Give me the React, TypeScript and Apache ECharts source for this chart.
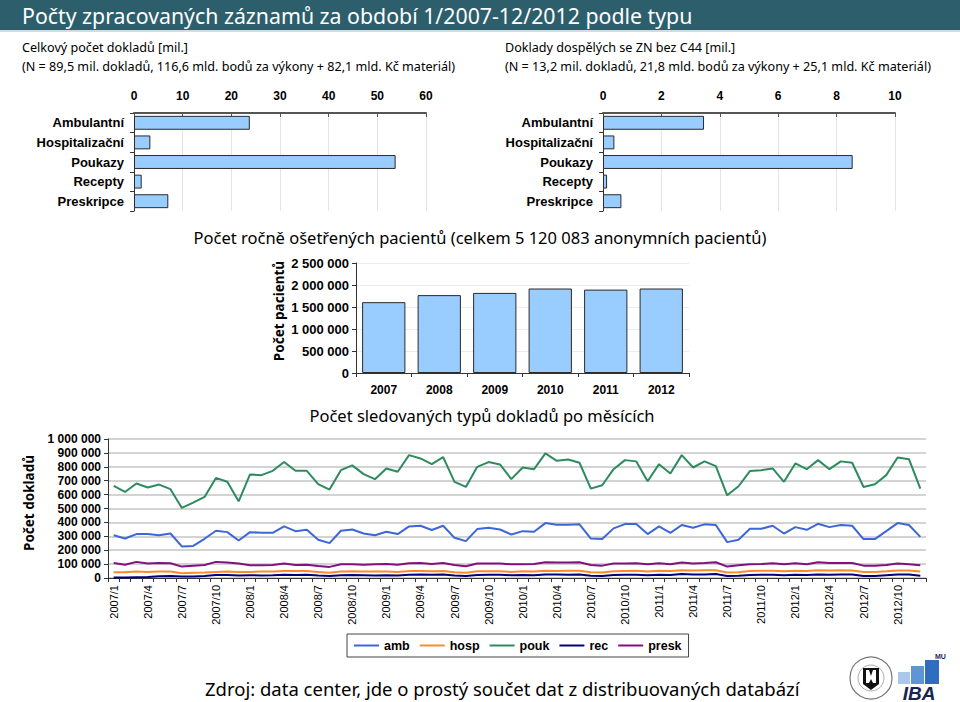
import React, { useEffect, useRef } from "react";
import * as echarts from "echarts";

const TYPE_CATS = ["Ambulantní", "Hospitalizační", "Poukazy", "Recepty", "Preskripce"];
const TOTAL_MIL = [23.8, 3.36, 53.76, 1.58, 7.05];
const ADULT_MIL = [3.46, 0.39, 8.55, 0.14, 0.63];
const TOP_LEFT_TICKS = { min: 0, max: 60, interval: 10 };
const TOP_RIGHT_TICKS = { min: 0, max: 10, interval: 2 };

const YEARS = ["2007", "2008", "2009", "2010", "2011", "2012"];
const PATIENTS = [1610000, 1770000, 1820000, 1920000, 1895000, 1920000];

const MONTHS = [
  "2007/1", "2007/2", "2007/3", "2007/4", "2007/5", "2007/6", "2007/7", "2007/8", "2007/9", "2007/10", "2007/11", "2007/12",
  "2008/1", "2008/2", "2008/3", "2008/4", "2008/5", "2008/6", "2008/7", "2008/8", "2008/9", "2008/10", "2008/11", "2008/12",
  "2009/1", "2009/2", "2009/3", "2009/4", "2009/5", "2009/6", "2009/7", "2009/8", "2009/9", "2009/10", "2009/11", "2009/12",
  "2010/1", "2010/2", "2010/3", "2010/4", "2010/5", "2010/6", "2010/7", "2010/8", "2010/9", "2010/10", "2010/11", "2010/12",
  "2011/1", "2011/2", "2011/3", "2011/4", "2011/5", "2011/6", "2011/7", "2011/8", "2011/9", "2011/10", "2011/11", "2011/12",
  "2012/1", "2012/2", "2012/3", "2012/4", "2012/5", "2012/6", "2012/7", "2012/8", "2012/9", "2012/10", "2012/11", "2012/12",
];

// monthly counts in thousands
const AMB = [
  308, 284, 316, 316, 308, 320, 227, 231, 282, 340, 330, 270,
  330, 325, 325, 371, 337, 347, 275, 251, 340, 349, 320, 308,
  333, 316, 371, 376, 345, 376, 289, 265, 352, 361, 349, 313,
  337, 333, 395, 383, 383, 386, 284, 280, 357, 388, 388, 316,
  371, 325, 381, 361, 386, 381, 258, 275, 354, 354, 376, 320,
  366, 347, 390, 366, 381, 376, 280, 280, 337, 395, 381, 296,
];
const HOSP = [
  42, 42, 46, 44, 46, 46, 34, 37, 40, 44, 46, 43,
  44, 46, 46, 50, 50, 50, 44, 38, 46, 48, 46, 46,
  46, 44, 50, 50, 48, 50, 42, 38, 48, 48, 48, 44,
  48, 46, 52, 50, 52, 52, 42, 40, 48, 50, 52, 46,
  52, 50, 56, 54, 56, 56, 40, 42, 50, 52, 52, 48,
  52, 50, 56, 54, 56, 54, 44, 44, 48, 54, 54, 46,
];
const POUK = [
  663, 619, 680, 651, 672, 639, 504, 542, 583, 720, 692, 552,
  745, 740, 771, 834, 771, 771, 675, 636, 776, 810, 747, 711,
  788, 764, 884, 860, 819, 870, 692, 655, 800, 834, 817, 711,
  795, 783, 896, 843, 853, 829, 643, 667, 783, 848, 839, 696,
  819, 752, 884, 795, 839, 805, 595, 660, 769, 776, 788, 692,
  824, 783, 848, 783, 839, 829, 655, 675, 740, 867, 855, 643,
];
const REC = [
  3, 4, 6, 8, 12, 14, 10, 10, 14, 22, 22, 18,
  20, 18, 20, 24, 22, 24, 18, 14, 20, 22, 20, 18,
  20, 18, 24, 26, 24, 26, 18, 14, 22, 24, 24, 20,
  22, 20, 26, 26, 24, 26, 16, 14, 22, 24, 24, 20,
  24, 22, 28, 26, 26, 28, 14, 16, 22, 24, 24, 20,
  24, 22, 26, 24, 26, 26, 14, 14, 20, 26, 26, 16,
];
const PRESK = [
  108, 96, 116, 104, 108, 106, 82, 89, 94, 116, 111, 104,
  92, 92, 94, 104, 94, 96, 87, 80, 99, 99, 96, 99,
  101, 96, 106, 108, 101, 108, 94, 84, 104, 104, 104, 99,
  99, 101, 113, 111, 111, 113, 94, 89, 104, 104, 106, 99,
  106, 99, 111, 104, 108, 113, 82, 92, 99, 101, 106, 99,
  106, 99, 113, 108, 108, 108, 89, 89, 94, 104, 99, 92,
];
const LINE_NAMES = ["amb", "hosp", "pouk", "rec", "presk"];
const LINE_COLORS = ["#3D66D6", "#FF8A2A", "#2E8B5E", "#00007A", "#82107F"];

const HUMAN = "'Noto Sans', 'Open Sans', sans-serif";
const ARIAL = "'Liberation Sans', Arial, sans-serif";

const spaced = (v: number) => String(Math.round(v)).replace(/\B(?=(\d{3})+(?!\d))/g, " ");

export default function App() {
  const ref = useRef<HTMLDivElement>(null);
  useEffect(() => {
    if (!ref.current) return;
    const chart = echarts.init(ref.current, null, { renderer: "svg" });

    const barStyle = { color: "#99CCFF", borderColor: "#2a2a2a", borderWidth: 1 };
    const tickLabel = { fontFamily: ARIAL, fontWeight: "bold" as const, fontSize: 12, color: "#000" };

    const hBarX = (grid: number, t: { min: number; max: number; interval: number }) => ({
      gridIndex: grid,
      type: "value",
      position: "top",
      min: t.min,
      max: t.max,
      interval: t.interval,
      axisLine: { show: true, lineStyle: { color: "#555", width: 2 } },
      axisTick: { show: true, inside: true, length: 4, lineStyle: { color: "#555" } },
      axisLabel: { ...tickLabel, margin: 11 },
      splitLine: { show: true, lineStyle: { color: "#e4e4e4", width: 1 } },
    });
    const hBarY = (grid: number) => ({
      gridIndex: grid,
      type: "category",
      data: TYPE_CATS,
      inverse: true,
      axisLine: { show: true, onZero: false, lineStyle: { color: "#333", width: 1 } },
      axisTick: { show: true, length: 4, lineStyle: { color: "#333" } },
      axisLabel: { fontFamily: ARIAL, fontWeight: "bold", fontSize: 13, color: "#000", margin: 10 },
    });

    const lineData = [AMB, HOSP, POUK, REC, PRESK];

    const option: any = {
      animation: false,
      backgroundColor: "#ffffff",
      grid: [
        { left: 134, top: 113, width: 292, height: 98 },
        { left: 603, top: 113, width: 292, height: 98 },
        { left: 356, top: 263, width: 333, height: 110 },
        { left: 108, top: 439, width: 818, height: 139 },
      ],
      xAxis: [
        hBarX(0, TOP_LEFT_TICKS),
        hBarX(1, TOP_RIGHT_TICKS),
        {
          gridIndex: 2,
          type: "category",
          data: YEARS,
          axisLine: { show: true, lineStyle: { color: "#333", width: 1 } },
          axisTick: { show: true, length: 4, lineStyle: { color: "#333" } },
          axisLabel: { ...tickLabel, margin: 11 },
        },
        {
          gridIndex: 3,
          type: "category",
          data: MONTHS,
          boundaryGap: true,
          axisLine: { show: true, lineStyle: { color: "#333", width: 1 } },
          axisTick: { show: true, interval: 0, length: 4, lineStyle: { color: "#333" } },
          axisLabel: { fontFamily: ARIAL, fontSize: 11, color: "#000", rotate: 90, interval: 2, margin: 7 },
        },
      ],
      yAxis: [
        hBarY(0),
        hBarY(1),
        {
          gridIndex: 2,
          type: "value",
          min: 0,
          max: 2500000,
          interval: 500000,
          axisLine: { show: true, lineStyle: { color: "#333", width: 1 } },
          axisTick: { show: true, length: 4, lineStyle: { color: "#333" } },
          axisLabel: { ...tickLabel, fontSize: 13, margin: 7, formatter: (v: number) => spaced(v) },
          splitLine: { show: true, lineStyle: { color: "#ececec", width: 1 } },
        },
        {
          gridIndex: 3,
          type: "value",
          min: 0,
          max: 1000,
          interval: 100,
          axisLine: { show: true, lineStyle: { color: "#333", width: 1 } },
          axisTick: { show: true, length: 4, lineStyle: { color: "#333" } },
          axisLabel: { ...tickLabel, fontSize: 12, margin: 7, formatter: (v: number) => spaced(v * 1000) },
          splitLine: { show: true, lineStyle: { color: "#c4c4c4", width: 1.5 } },
        },
      ],
      legend: {
        data: LINE_NAMES,
        left: 347,
        top: 634,
        icon: "rect",
        itemWidth: 25,
        itemHeight: 2,
        itemGap: 10,
        padding: [5, 7],
        borderColor: "#444",
        borderWidth: 1,
        textStyle: { fontFamily: ARIAL, fontWeight: "bold", fontSize: 12.5, color: "#000" },
      },
      series: [
        {
          type: "bar",
          xAxisIndex: 0,
          yAxisIndex: 0,
          data: TOTAL_MIL,
          barCategoryGap: "29%",
          itemStyle: barStyle,
        },
        {
          type: "bar",
          xAxisIndex: 1,
          yAxisIndex: 1,
          data: ADULT_MIL,
          barCategoryGap: "29%",
          itemStyle: barStyle,
        },
        {
          type: "bar",
          xAxisIndex: 2,
          yAxisIndex: 2,
          data: PATIENTS,
          barCategoryGap: "22%",
          itemStyle: barStyle,
        },
        ...LINE_NAMES.map((name, i) => ({
          name,
          type: "line",
          xAxisIndex: 3,
          yAxisIndex: 3,
          data: lineData[i],
          symbol: "none",
          lineStyle: { color: LINE_COLORS[i], width: 2 },
          itemStyle: { color: LINE_COLORS[i] },
          z: i === 3 ? 3 : 2,
        })),
      ],
      graphic: [
        { type: "rect", shape: { x: 0, y: 0, width: 960, height: 30 }, style: { fill: "#2C5E6C" } },
        { type: "rect", shape: { x: 0, y: 30, width: 960, height: 2 }, style: { fill: "#d6dcde" } },
        {
          type: "text",
          x: 22,
          y: 15,
          style: {
            text: "Počty zpracovaných záznamů za období 1/2007-12/2012 podle typu",
            fill: "#ffffff",
            font: `21.3px ${HUMAN}`,
            textVerticalAlign: "middle",
          },
        },
        {
          type: "text",
          x: 22,
          y: 47,
          style: { text: "Celkový počet dokladů [mil.]", fill: "#000", font: `12.6px ${HUMAN}`, textVerticalAlign: "middle" },
        },
        {
          type: "text",
          x: 22,
          y: 66,
          style: {
            text: "(N = 89,5 mil. dokladů, 116,6 mld. bodů za výkony + 82,1 mld. Kč materiál)",
            fill: "#000",
            font: `12.6px ${HUMAN}`,
            textVerticalAlign: "middle",
          },
        },
        {
          type: "text",
          x: 505,
          y: 47,
          style: { text: "Doklady dospělých se ZN bez C44 [mil.]", fill: "#000", font: `12.6px ${HUMAN}`, textVerticalAlign: "middle" },
        },
        {
          type: "text",
          x: 505,
          y: 66,
          style: {
            text: "(N = 13,2 mil. dokladů, 21,8 mld. bodů za výkony + 25,1 mld. Kč materiál)",
            fill: "#000",
            font: `12.6px ${HUMAN}`,
            textVerticalAlign: "middle",
          },
        },
        {
          type: "text",
          x: 480,
          y: 237,
          style: {
            text: "Počet ročně ošetřených pacientů (celkem 5 120 083 anonymních pacientů)",
            fill: "#000",
            font: `16.5px ${HUMAN}`,
            textAlign: "center",
            textVerticalAlign: "middle",
          },
        },
        {
          type: "text",
          x: 279,
          y: 311,
          rotation: Math.PI / 2,
          style: {
            text: "Počet pacientů",
            fill: "#000",
            font: `bold 13.5px ${HUMAN}`,
            textAlign: "center",
            textVerticalAlign: "middle",
          },
        },
        {
          type: "text",
          x: 482,
          y: 415,
          style: {
            text: "Počet sledovaných typů dokladů po měsících",
            fill: "#000",
            font: `16.5px ${HUMAN}`,
            textAlign: "center",
            textVerticalAlign: "middle",
          },
        },
        {
          type: "text",
          x: 29,
          y: 503,
          rotation: Math.PI / 2,
          style: {
            text: "Počet dokladů",
            fill: "#000",
            font: `bold 13.5px ${HUMAN}`,
            textAlign: "center",
            textVerticalAlign: "middle",
          },
        },
        {
          type: "text",
          x: 205,
          y: 688,
          style: {
            text: "Zdroj: data center, jde o prostý součet dat z distribuovaných databází",
            fill: "#000",
            font: `18.5px ${HUMAN}`,
            textVerticalAlign: "middle",
          },
        },
        // MU seal
        { type: "circle", shape: { cx: 871, cy: 678, r: 21 }, style: { fill: "#fff", stroke: "#777", lineWidth: 1.2 } },
        { type: "circle", shape: { cx: 871, cy: 678, r: 13 }, style: { fill: "#fff", stroke: "#999", lineWidth: 0.8 } },
        {
          type: "polygon",
          shape: { points: [[863, 668], [879, 668], [879, 684], [871, 690], [863, 684]] },
          style: { fill: "#111" },
        },
        {
          type: "polygon",
          shape: { points: [[866, 670], [869, 670], [871, 676], [873, 670], [876, 670], [876, 683], [873, 683], [871, 679], [869, 683], [866, 683]] },
          style: { fill: "#fff" },
        },
        // IBA logo
        { type: "rect", shape: { x: 898, y: 672, width: 12, height: 12 }, style: { fill: "#A9C8EA" } },
        { type: "rect", shape: { x: 911, y: 666, width: 13, height: 18 }, style: { fill: "#5E95D6" } },
        { type: "rect", shape: { x: 925, y: 660, width: 14, height: 24 }, style: { fill: "#2E6DC0" } },
        {
          type: "text",
          x: 935,
          y: 656,
          style: { text: "MU", fill: "#1a2a5a", font: `bold 7px ${ARIAL}`, textVerticalAlign: "middle" },
        },
        {
          type: "text",
          x: 919,
          y: 693,
          style: {
            text: "IBA",
            fill: "#16264F",
            font: `italic bold 19px ${ARIAL}`,
            textAlign: "center",
            textVerticalAlign: "middle",
          },
        },
      ],
    };

    chart.setOption(option);
    return () => chart.dispose();
  }, []);

  return (
    <div
      ref={ref}
      style={{ position: "absolute", left: 0, top: 0, width: 960, height: 702, background: "#fff" }}
    />
  );
}
